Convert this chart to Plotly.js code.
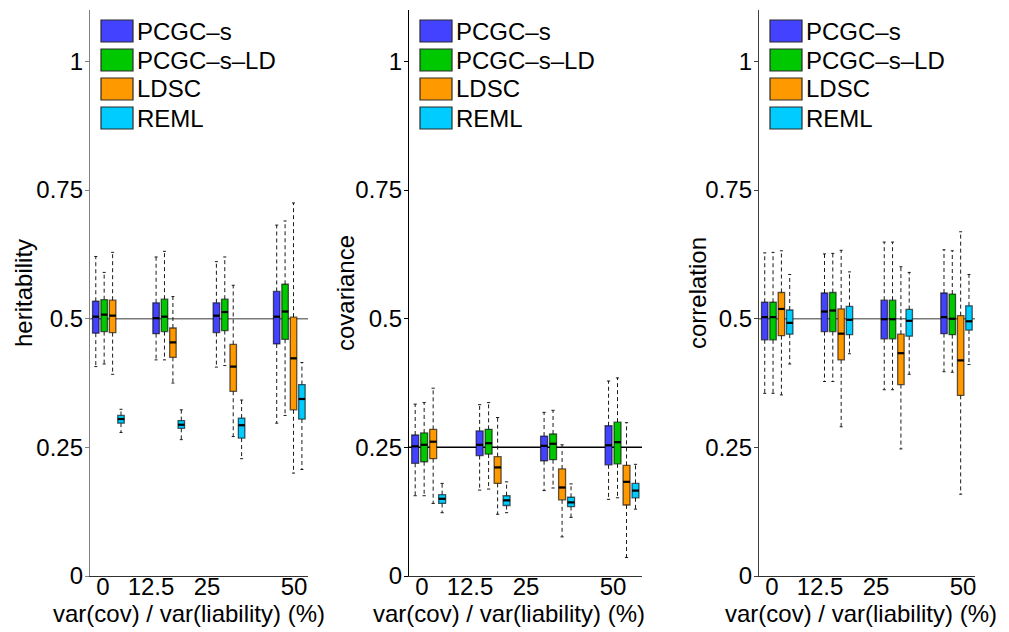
<!DOCTYPE html>
<html>
<head>
<meta charset="utf-8">
<script src="https://cdn.plot.ly/plotly-3.0.1.min.js"></script>
<style>html,body{margin:0;padding:0;background:#fff;}#chart{width:1009px;height:632px;}</style>
</head>
<body>
<div id="chart"></div>
<script>
// ---------------- data ----------------
const categories = ['0', '12.5', '25', '50'];
const methods = ['PCGC\u2013s', 'PCGC\u2013s\u2013LD', 'LDSC', 'REML'];
const panelTitles = ['heritability', 'covariance', 'correlation'];
const trueValues = [0.5, 0.25, 0.5];
const xTitle = 'var(cov) / var(liability) (%)';
const yTickVals = [0, 0.25, 0.5, 0.75, 1];
const yTickText = ['0', '0.25', '0.5', '0.75', '1'];

// rows: methods (PCGC-s, PCGC-s-LD, LDSC, REML); columns: categories
const herit_hi = [[0.621, 0.620, 0.611, 0.682], [0.590, 0.631, 0.620, 0.690], [0.629, 0.543, 0.565, 0.725], [0.324, 0.323, 0.342, 0.415]];
const herit_q3 = [[0.534, 0.531, 0.531, 0.553], [0.537, 0.538, 0.538, 0.567], [0.536, 0.482, 0.450, 0.503], [0.312, 0.302, 0.307, 0.372]];
const herit_med = [[0.504, 0.501, 0.506, 0.504], [0.508, 0.504, 0.513, 0.514], [0.506, 0.454, 0.407, 0.423], [0.305, 0.294, 0.293, 0.344]];
const herit_q1 = [[0.472, 0.471, 0.473, 0.451], [0.475, 0.475, 0.477, 0.460], [0.473, 0.425, 0.359, 0.323], [0.297, 0.287, 0.268, 0.305]];
const herit_lo = [[0.407, 0.420, 0.406, 0.297], [0.412, 0.420, 0.409, 0.312], [0.392, 0.375, 0.271, 0.200], [0.279, 0.265, 0.228, 0.207]];

const cov_hi = [[0.334, 0.333, 0.318, 0.379], [0.337, 0.337, 0.322, 0.385], [0.365, 0.308, 0.255, 0.298], [0.180, 0.183, 0.179, 0.217]];
const cov_q3 = [[0.274, 0.282, 0.272, 0.292], [0.278, 0.285, 0.276, 0.299], [0.285, 0.232, 0.208, 0.215], [0.158, 0.156, 0.153, 0.180]];
const cov_med = [[0.252, 0.255, 0.253, 0.254], [0.255, 0.258, 0.257, 0.260], [0.261, 0.211, 0.172, 0.183], [0.150, 0.147, 0.143, 0.166]];
const cov_q1 = [[0.219, 0.234, 0.224, 0.216], [0.222, 0.237, 0.226, 0.218], [0.228, 0.180, 0.148, 0.138], [0.141, 0.137, 0.135, 0.152]];
const cov_lo = [[0.156, 0.167, 0.166, 0.149], [0.156, 0.169, 0.171, 0.152], [0.141, 0.120, 0.076, 0.036], [0.123, 0.123, 0.114, 0.130]];

const corr_hi = [[0.628, 0.626, 0.649, 0.634], [0.629, 0.627, 0.649, 0.632], [0.632, 0.633, 0.601, 0.669], [0.586, 0.591, 0.590, 0.586]];
const corr_q3 = [[0.532, 0.550, 0.536, 0.550], [0.532, 0.551, 0.536, 0.548], [0.551, 0.519, 0.470, 0.506], [0.517, 0.524, 0.518, 0.525]];
const corr_med = [[0.503, 0.514, 0.499, 0.503], [0.503, 0.516, 0.499, 0.500], [0.519, 0.471, 0.433, 0.419], [0.492, 0.498, 0.496, 0.495]];
const corr_q1 = [[0.459, 0.475, 0.461, 0.471], [0.459, 0.475, 0.461, 0.469], [0.467, 0.420, 0.372, 0.351], [0.470, 0.469, 0.466, 0.478]];
const corr_lo = [[0.355, 0.378, 0.362, 0.397], [0.355, 0.378, 0.362, 0.396], [0.352, 0.290, 0.247, 0.159], [0.412, 0.432, 0.392, 0.411]];

// ---------------- style / layout ----------------
const W = 1009, H = 632;
const FONT = 'Liberation Sans, Arial, Helvetica, sans-serif';
const fills = ['#4343ff', '#00c800', '#ff9900', '#00ccff'];
const panelPx = [[90, 308], [409, 642], [759, 975]];
const axisColors = ['#808080', '#000000', '#404040'];
const refColors = ['#7a7a7a', '#000000', '#7a7a7a'];
const xRange = [-0.305, 3.31];
const tickOffsetPx = [13, 61, 117, 204];     // label positions measured from the y axis (px)
const yTitleX = [23, 345, 697];              // px centre of the rotated y titles
const xTitleX = [189, 509, 861];             // px centre of the x titles
const xTitleY = 613;
const methodOffset = [-0.209, -0.07, 0.07, 0.209];
const boxW = 0.108;
const capW = 0.05;
const yDom = [56 / H, 1 - 10 / H];

const stats = [
  [herit_lo, herit_q1, herit_med, herit_q3, herit_hi],
  [cov_lo, cov_q1, cov_med, cov_q3, cov_hi],
  [corr_lo, corr_q1, corr_med, corr_q3, corr_hi]
];

const traces = [];
const shapes = [];
const annotations = [];
const layout = {
  width: W, height: H,
  margin: {l: 0, r: 0, t: 0, b: 0},
  paper_bgcolor: '#fff', plot_bgcolor: 'rgba(0,0,0,0)',
  showlegend: false,
  font: {family: FONT, size: 24, color: '#000'},
  shapes: shapes, annotations: annotations
};

stats.forEach((st, p) => {
  const sfx = p === 0 ? '' : String(p + 1);
  const xa = 'x' + sfx, ya = 'y' + sfx;
  const [lo, q1, med, q3, hi] = st;
  const pxPerUnit = (panelPx[p][1] - panelPx[p][0]) / (xRange[1] - xRange[0]);
  const tickVals = tickOffsetPx.map(o => xRange[0] + o / pxPerUnit);

  layout['xaxis' + sfx] = {
    domain: [panelPx[p][0] / W, panelPx[p][1] / W],
    anchor: ya, range: xRange, showgrid: false, zeroline: false,
    showline: true, linecolor: '#303030', linewidth: 1.2, ticks: '',
    tickmode: 'array', tickvals: tickVals, ticktext: categories,
    ticklabelstandoff: -11,
    tickfont: {family: FONT, size: 24, color: '#000'},
    fixedrange: true
  };
  layout['yaxis' + sfx] = {
    domain: yDom, anchor: xa, range: [0, 1.1], showgrid: false, zeroline: false,
    showline: true, linecolor: axisColors[p], linewidth: 1.2,
    ticks: 'outside', ticklen: 4, tickcolor: axisColors[p], tickwidth: 1,
    tickmode: 'array', tickvals: yTickVals, ticktext: yTickText,
    ticklabelstandoff: -3,
    tickfont: {family: FONT, size: 24, color: '#000'},
    fixedrange: true
  };

  // axis titles
  annotations.push({
    xref: 'paper', yref: 'paper', x: yTitleX[p] / W, y: (yDom[0] + yDom[1]) / 2,
    xanchor: 'center', yanchor: 'middle', textangle: -90, showarrow: false,
    text: panelTitles[p], font: {family: FONT, size: 24, color: '#000'}
  });
  annotations.push({
    xref: 'paper', yref: 'paper', x: xTitleX[p] / W, y: 1 - xTitleY / H,
    xanchor: 'center', yanchor: 'middle', showarrow: false,
    text: xTitle, font: {family: FONT, size: 24, color: '#000'}
  });

  // reference line at true value
  shapes.push({
    type: 'line', layer: 'below', xref: xa + ' domain', yref: ya,
    x0: 0, x1: 1, y0: trueValues[p], y1: trueValues[p],
    line: {color: refColors[p], width: 1.5}
  });

  methods.forEach((m, k) => {
    const xs = categories.map((c, i) => i + methodOffset[k]);
    const wx = [], wy = [], cx = [], cy = [], mx = [], my = [];
    xs.forEach((x, i) => {
      wx.push(x, x, null, x, x, null);
      wy.push(q3[k][i], hi[k][i], null, q1[k][i], lo[k][i], null);
      cx.push(x - capW / 2, x + capW / 2, null, x - capW / 2, x + capW / 2, null);
      cy.push(hi[k][i], hi[k][i], null, lo[k][i], lo[k][i], null);
      mx.push(x - boxW / 2, x + boxW / 2, null);
      my.push(med[k][i], med[k][i], null);
    });
    traces.push({
      type: 'scatter', mode: 'lines', xaxis: xa, yaxis: ya, x: wx, y: wy,
      line: {color: '#1a1a1a', width: 1, dash: '4px,3px'}, hoverinfo: 'skip', connectgaps: false
    });
    traces.push({
      type: 'scatter', mode: 'lines', xaxis: xa, yaxis: ya, x: cx, y: cy,
      line: {color: '#1a1a1a', width: 1}, hoverinfo: 'skip', connectgaps: false
    });
    traces.push({
      type: 'box', name: m, xaxis: xa, yaxis: ya, x: xs,
      q1: q1[k], median: med[k], q3: q3[k], lowerfence: q1[k], upperfence: q3[k],
      width: boxW, whiskerwidth: 0, boxpoints: false,
      fillcolor: fills[k], line: {color: 'rgba(0,0,0,0.62)', width: 1.3}
    });
    traces.push({
      type: 'scatter', mode: 'lines', xaxis: xa, yaxis: ya, x: mx, y: my,
      line: {color: '#000', width: 2.2}, hoverinfo: 'skip', connectgaps: false
    });

    // legend swatch + label
    const ax0 = panelPx[p][0];
    const top = 20 + 29 * k;
    shapes.push({
      type: 'rect', xref: 'paper', yref: 'paper', layer: 'above',
      x0: (ax0 + 11) / W, x1: (ax0 + 43) / W, y0: 1 - top / H, y1: 1 - (top + 22) / H,
      fillcolor: fills[k], line: {color: '#2a2a2a', width: 1.2}
    });
    annotations.push({
      xref: 'paper', yref: 'paper', x: (ax0 + 45) / W, y: 1 - (top + 11) / H,
      xanchor: 'left', yanchor: 'middle', showarrow: false, text: m,
      font: {family: FONT, size: 24, color: '#000'}
    });
  });
});

Plotly.newPlot('chart', traces, layout, {staticPlot: true, displayModeBar: false});
</script>
</body>
</html>
